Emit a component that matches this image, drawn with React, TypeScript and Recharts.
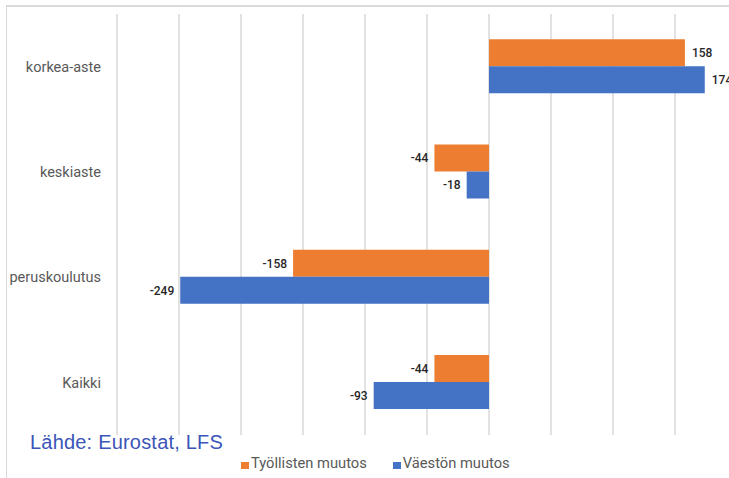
import React from "react";
import { BarChart, Bar, XAxis, YAxis, CartesianGrid, Legend, LabelList } from "recharts";

const categories = ["korkea-aste", "keskiaste", "peruskoulutus", "Kaikki"];
const tyollistenMuutos = [158, -44, -158, -44];
const vaestonMuutos = [174, -18, -249, -93];
const xTicks = [-300, -250, -200, -150, -100, -50, 0, 50, 100, 150, 200];

const data = categories.map((name, i) => ({
  name,
  tyol: tyollistenMuutos[i],
  vaes: vaestonMuutos[i],
}));

const FONT = "Roboto, 'Open Sans', sans-serif";

const renderValueLabel = (props: any) => {
  const { x, y, width, height, value } = props;
  const left = Math.min(x, x + width);
  const right = Math.max(x, x + width);
  const neg = value < 0;
  const tx = neg ? left - 6 : right + 7;
  return (
    <text
      x={tx}
      y={y + height / 2}
      dy="0.36em"
      textAnchor={neg ? "end" : "start"}
      fontSize={12}
      fontFamily={FONT}
      fontWeight={500}
      fill="#262626"
    >
      {value}
    </text>
  );
};

const renderLegend = (props: any) => {
  const { payload } = props;
  return (
    <div style={{ display: "flex", alignItems: "flex-end", fontFamily: FONT, fontSize: 14.7, lineHeight: "17px", color: "#595959" }}>
      {payload.map((p: any, i: number) => (
        <div key={i} style={{ display: "flex", alignItems: "center", marginRight: 26 }}>
          <span style={{ display: "inline-block", width: 8, height: 7, background: p.color, marginRight: 2, marginTop: 3 }} />
          <span>{p.value}</span>
        </div>
      ))}
    </div>
  );
};

export default function App() {
  return (
    <div style={{ position: "absolute", left: 0, top: 0, width: 729, height: 478, overflow: "hidden", background: "#fff" }}>
      <div style={{ position: "absolute", left: 6, top: 5, width: 900, height: 600, borderStyle: "solid", borderColor: "#d9d9d9", borderWidth: "2px 0 0 1px" }} />
      <div style={{ position: "absolute", left: 0, top: 0 }}>
        <BarChart
          width={760}
          height={478}
          data={data}
          layout="vertical"
          margin={{ top: 14, right: 23, bottom: 26, left: 0 }}
          barCategoryGap="24%"
          barGap={0}
        >
          <CartesianGrid horizontal={false} stroke="#d9d9d9" strokeWidth={1.5} />
          <XAxis type="number" domain={[-300, 200]} ticks={xTicks} hide allowDataOverflow />
          <YAxis
            type="category"
            dataKey="name"
            width={117}
            axisLine={false}
            tickLine={false}
            tickSize={0}
            tickMargin={16}
            tick={{ fontSize: 14.5, fontFamily: FONT, fill: "#595959" }}
          />
          <Legend
            content={renderLegend}
            wrapperStyle={{ position: "absolute", left: 241, top: 455, width: 400 }}
          />
          <Bar dataKey="tyol" name="Työllisten muutos" fill="#ED7D31" isAnimationActive={false}>
            <LabelList dataKey="tyol" content={renderValueLabel} />
          </Bar>
          <Bar dataKey="vaes" name="Väestön muutos" fill="#4472C4" isAnimationActive={false}>
            <LabelList dataKey="vaes" content={renderValueLabel} />
          </Bar>
        </BarChart>
      </div>
      <div
        style={{
          position: "absolute",
          left: 30,
          top: 432,
          fontFamily: "'Liberation Sans', Arial, sans-serif",
          fontSize: 20,
          lineHeight: "20px",
          letterSpacing: 0.2,
          color: "#3B55B8",
          whiteSpace: "nowrap",
        }}
      >
        Lähde: Eurostat, LFS
      </div>
    </div>
  );
}
